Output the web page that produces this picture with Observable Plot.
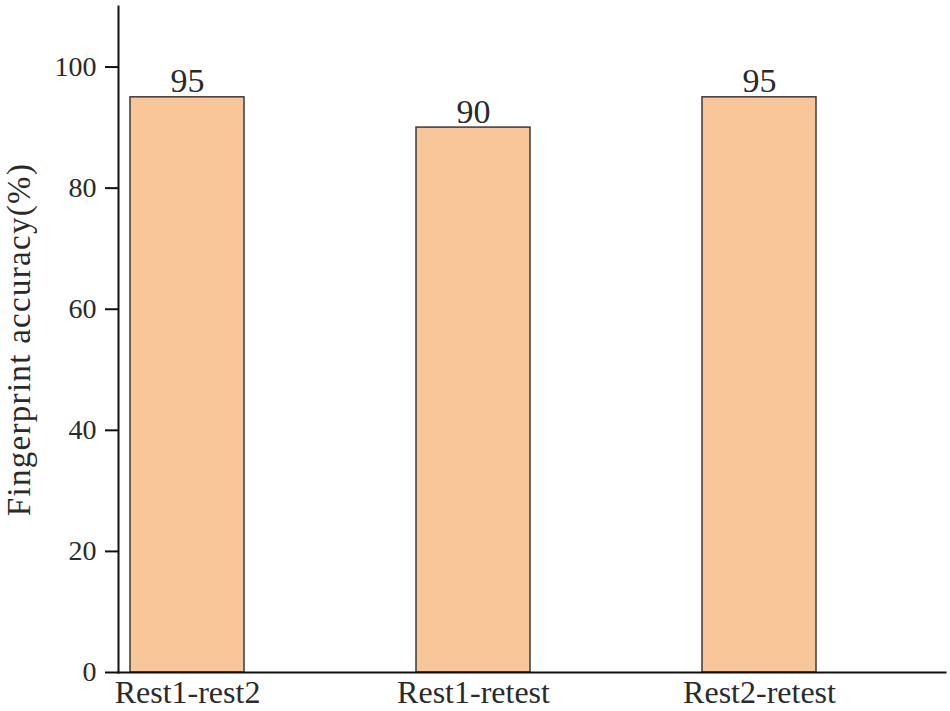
<!DOCTYPE html>
<html>
<head>
<meta charset="utf-8">
<script src="https://cdn.jsdelivr.net/npm/d3@7"></script>
<script src="https://cdn.jsdelivr.net/npm/@observablehq/plot@0.6"></script>
<style>
  html, body { margin: 0; padding: 0; background: #fff; }
  #chart { width: 950px; height: 711px; }
</style>
</head>
<body>
<div id="chart"></div>
<script>
const categories = ["Rest1-rest2", "Rest1-retest", "Rest2-retest"];
const accuracy = [95, 90, 95];
const yTicks = [0, 20, 40, 60, 80, 100];
const yLabel = "Fingerprint accuracy(%)";

const data = categories.map((c, i) => ({category: c, value: accuracy[i]}));
const font = "'Liberation Serif', 'Times New Roman', serif";

const chart = Plot.plot({
  width: 950,
  height: 711,
  marginLeft: 118,
  marginRight: 5,
  marginTop: 6,
  marginBottom: 39,
  style: {fontFamily: font, color: "#2a2a2a", background: "#fff"},
  x: {domain: categories, range: [43, 903], paddingInner: 0.6, paddingOuter: 0.3},
  y: {domain: [0, 110]},
  marks: [
    Plot.barY(data, {x: "category", y: "value", fill: "#F9C699", stroke: "#3a3a3a", strokeWidth: 1.5}),
    Plot.text(data, {x: "category", y: "value", text: d => String(d.value), dy: -5, lineAnchor: "bottom", fontSize: 34, fill: "#2a2a2a"}),
    Plot.axisY({ticks: yTicks, tickSize: 13, tickPadding: 9, fontSize: 28, strokeWidth: 2, stroke: "#111",
      label: yLabel, labelAnchor: "center", labelArrow: "none", labelOffset: 112}),
    Plot.axisX({tickSize: 0, tickPadding: 8, fontSize: 32, label: null}),
    Plot.frame({anchor: "left", stroke: "#111", strokeWidth: 2}),
    Plot.frame({anchor: "bottom", stroke: "#111", strokeWidth: 2})
  ]
});

const lab = chart.querySelector('[aria-label="y-axis label"] text');
if (lab) { lab.setAttribute("font-size", "33"); lab.style.fontSize = "33px"; lab.style.letterSpacing = "1.3px"; }
document.getElementById("chart").appendChild(chart);
</script>
</body>
</html>
